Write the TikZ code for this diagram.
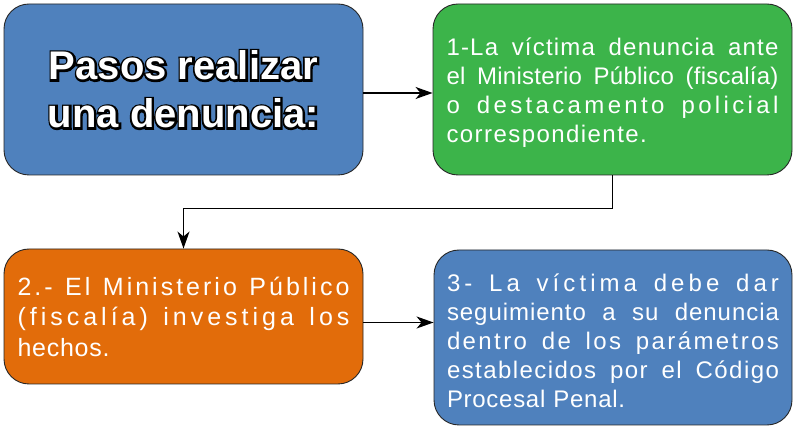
\documentclass[tikz,border=0pt]{standalone}
\usepackage{fontspec}
\setmainfont{Liberation Sans}
\usetikzlibrary{arrows.meta}

\definecolor{pasoazul}{RGB}{79,129,189}
\definecolor{pasoverde}{RGB}{60,180,74}
\definecolor{pasonaranja}{RGB}{226,108,10}
\newlength{\anchotexto}
\setlength{\anchotexto}{332pt}
\newcommand{\spreadline}[2][0]{{\spaceskip=0pt\xspaceskip=0pt\addfontfeature{LetterSpace=#1}\makebox[\anchotexto][s]{#2}}}
\newcommand{\contorno}[1]{\makebox[0pt][l]{\color{black}\addfontfeature{FakeBold=10}#1}#1}

\begin{document}
\begin{tikzpicture}
  [x=1pt, y=-1pt,
   paso/.style={draw=black!85, line width=0.9pt, rounded corners=25pt,
     minimum width=359pt, text=white, inner sep=0pt},
   texto/.style={text width=\anchotexto, align=left, font=\fontsize{24pt}{29pt}\selectfont},
   flecha/.style={line width=1.3pt, -{Stealth[length=17pt, width=12pt, inset=5pt]}}]
  \useasboundingbox (0,0) rectangle (793,427);
  \node[paso, fill=pasoazul, minimum height=171pt, align=center,
    font=\fontsize{40pt}{48pt}\selectfont\bfseries] (pasos) at (183.5,89.5)
    {\contorno{Pasos realizar}\\\contorno{una denuncia:}};
  \node[paso, texto, fill=pasoverde, minimum height=171pt] (paso1) at (612.5,89.5)
    {\rule{0pt}{24pt}\spreadline[5]{1-La víctima denuncia ante}\\
     \spreadline[1]{el Ministerio Público (fiscalía)}\\
     \spreadline[14]{o destacamento policial}\\
     {\addfontfeature{LetterSpace=6}correspondiente.}};
  \node[paso, texto, fill=pasonaranja, minimum height=135pt,
    font=\fontsize{25pt}{30.5pt}\selectfont] (paso2) at (183.5,316.5)
    {\spreadline[12]{2.- El Ministerio Público}\\
     \spreadline[16]{(fiscalía) investiga los}\\
     {\addfontfeature{LetterSpace=3}hechos.}};
  \node[paso, texto, fill=pasoazul, minimum width=358pt, minimum height=175pt] (paso3) at (613,337.5)
    {\rule{0pt}{24pt}\spreadline[17]{3- La víctima debe dar}\\
     \spreadline[4]{seguimiento a su denuncia}\\
     \spreadline[10]{dentro de los parámetros}\\
     \spreadline[6]{establecidos por el Código}\\
     {\addfontfeature{LetterSpace=3}Procesal Penal.}};

  \draw[flecha] ([yshift=-3.5pt]pasos.east) -- ([yshift=-3.5pt]pasos.east -| paso1.west);
  \draw[flecha] (paso1.south) -- ++(0,33) -| (paso2.north);
  \draw[flecha] ([yshift=-6pt]paso2.east) -- ([yshift=-6pt]paso2.east -| paso3.west);
\end{tikzpicture}
\end{document}
